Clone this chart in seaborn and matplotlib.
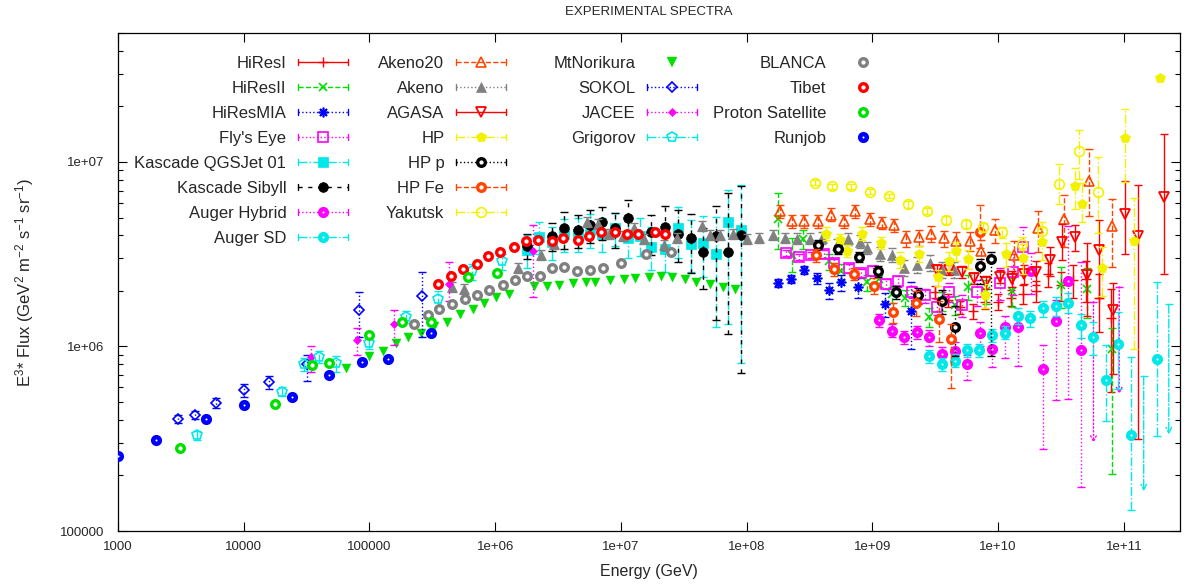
import numpy as np
import matplotlib
matplotlib.use("Agg")
import matplotlib.pyplot as plt
import seaborn as sns
from matplotlib.lines import Line2D
from matplotlib.legend import Legend
from matplotlib.legend_handler import HandlerLine2D
from matplotlib.ticker import FixedLocator, FixedFormatter, NullLocator, LogLocator

sns.set_style("ticks")
plt.rcParams["font.family"] = ["Liberation Sans", "DejaVu Sans"]
plt.rcParams["mathtext.default"] = "regular"

# ---------------- data (E in GeV, F = E^3 * flux) ----------------
hires1_E = [3.16e9, 3.98e9, 5.01e9, 6.31e9, 7.94e9, 1.0e10, 1.26e10, 1.58e10, 2.0e10, 2.51e10, 3.16e10, 3.98e10, 5.01e10, 6.31e10, 7.94e10]
hires1_F = [1.98e6, 1.79e6, 1.64e6, 1.55e6, 1.75e6, 1.75e6, 1.84e6, 1.93e6, 2.01e6, 2.48e6, 2.16e6, 2.30e6, 2.33e6, 1.84e6, 1.42e6]
hires1_lo = [0.08, 0.08, 0.08, 0.09, 0.09, 0.1, 0.1, 0.12, 0.13, 0.15, 0.18, 0.2, 0.25, 0.35, 0.6]
hires1_hi = [0.08, 0.08, 0.08, 0.09, 0.09, 0.1, 0.1, 0.12, 0.13, 0.15, 0.18, 0.2, 0.25, 0.35, 0.45]

hires2_E = [1.79e8, 2.29e8, 2.83e8, 4.53e8, 5.65e8, 9.06e8, 1.12e9, 1.43e9, 1.83e9, 2.84e9, 3.59e9, 4.58e9, 5.78e9, 8.05e9, 1.30e10, 3.15e10, 5.14e10, 8.0e10]
hires2_F = [4.90e6, 3.13e6, 3.82e6, 2.90e6, 2.56e6, 2.23e6, 2.32e6, 1.92e6, 1.84e6, 1.45e6, 1.77e6, 1.68e6, 2.11e6, 2.0e6, 2.0e6, 2.16e6, 2.05e6, 9.73e5]
hires2_lo = [0.31, 0.19, 0.12, 0.1, 0.1, 0.1, 0.1, 0.1, 0.1, 0.12, 0.12, 0.12, 0.15, 0.15, 0.18, 0.25, 0.3, 0.79]
hires2_hi = [0.38, 0.23, 0.12, 0.1, 0.1, 0.1, 0.1, 0.1, 0.1, 0.12, 0.12, 0.12, 0.15, 0.15, 0.18, 0.25, 0.3, 0.3]

hiresmia_E = [1.79e8, 2.24e8, 2.86e8, 3.62e8, 4.53e8, 5.65e8, 7.67e8, 1.25e9, 2.04e9]
hiresmia_F = [2.20e6, 2.32e6, 2.60e6, 2.34e6, 2.02e6, 2.23e6, 2.09e6, 1.70e6, 1.56e6]
hiresmia_lo = [0.05, 0.05, 0.05, 0.07, 0.1, 0.1, 0.12, 0.15, 0.38]
hiresmia_hi = [0.05, 0.05, 0.05, 0.07, 0.1, 0.1, 0.12, 0.15, 0.43]

flyseye_E = [2.06e8, 2.61e8, 3.26e8, 4.09e8, 5.0e8, 6.50e8, 8.18e8, 1.01e9, 1.28e9, 1.61e9, 2.07e9, 2.61e9, 3.24e9, 4.06e9, 5.14e9, 6.76e9, 1.03e10, 1.32e10, 1.59e10]
flyseye_F = [3.22e6, 3.06e6, 3.13e6, 3.17e6, 2.82e6, 2.65e6, 2.51e6, 2.56e6, 2.19e6, 2.26e6, 1.98e6, 1.89e6, 1.64e6, 1.98e6, 1.67e6, 1.97e6, 2.22e6, 2.54e6, 3.48e6]
flyseye_lo = [0.04, 0.04, 0.04, 0.05, 0.05, 0.05, 0.05, 0.06, 0.06, 0.07, 0.08, 0.09, 0.1, 0.12, 0.14, 0.16, 0.2, 0.25, 0.3]
flyseye_hi = [0.04, 0.04, 0.04, 0.05, 0.05, 0.05, 0.05, 0.06, 0.06, 0.07, 0.08, 0.09, 0.1, 0.12, 0.14, 0.16, 0.2, 0.25, 0.28]

kqgs_E = [1.78e6, 2.24e6, 2.84e6, 3.56e6, 4.55e6, 5.70e6, 7.06e6, 8.91e6, 1.14e7, 1.41e7, 1.75e7, 2.26e7, 2.85e7, 3.60e7, 4.52e7, 5.69e7, 7.14e7, 8.99e7]
kqgs_F = [3.34e6, 3.94e6, 3.70e6, 4.08e6, 4.08e6, 4.29e6, 4.08e6, 4.36e6, 3.85e6, 3.98e6, 3.48e6, 3.39e6, 4.36e6, 3.61e6, 3.66e6, 3.18e6, 4.74e6, 4.28e6]
kqgs_lo = [0.2, 0.2, 0.2, 0.2, 0.2, 0.2, 0.2, 0.2, 0.22, 0.22, 0.25, 0.25, 0.31, 0.3, 0.35, 0.6, 0.72, 0.81]
kqgs_hi = [0.2, 0.2, 0.2, 0.2, 0.22, 0.22, 0.22, 0.22, 0.25, 0.25, 0.28, 0.28, 0.31, 0.35, 0.4, 0.58, 0.48, 0.76]

ksib_E = [1.78e6, 2.84e6, 3.56e6, 4.55e6, 5.70e6, 7.06e6, 8.91e6, 1.14e7, 1.75e7, 2.26e7, 2.85e7, 3.60e7, 4.52e7, 5.69e7, 7.14e7, 8.99e7]
ksib_F = [3.52e6, 3.98e6, 4.40e6, 4.28e6, 4.55e6, 4.70e6, 4.36e6, 4.98e6, 4.15e6, 4.46e6, 4.09e6, 3.85e6, 3.24e6, 3.98e6, 3.24e6, 4.01e6]
ksib_lo = [0.15, 0.17, 0.23, 0.2, 0.2, 0.2, 0.22, 0.2, 0.25, 0.25, 0.3, 0.35, 0.37, 0.65, 0.64, 0.82]
ksib_hi = [0.15, 0.17, 0.22, 0.2, 0.2, 0.22, 0.22, 0.25, 0.25, 0.3, 0.35, 0.35, 0.35, 0.45, 1.1, 0.85]

augerh_E = [1.13e9, 1.43e9, 1.79e9, 2.27e9, 2.84e9, 3.59e9, 4.53e9, 5.68e9, 7.24e9, 8.99e9, 1.14e10, 1.45e10, 1.82e10, 2.28e10, 2.88e10, 3.61e10, 4.55e10]
augerh_F = [1.39e6, 1.22e6, 1.12e6, 1.20e6, 1.12e6, 9.06e5, 9.46e5, 8.02e5, 1.18e6, 9.73e5, 1.27e6, 1.27e6, 2.56e6, 7.53e5, 1.38e6, 2.26e6, 9.59e5]
augerh_lo = [0.08, 0.08, 0.08, 0.08, 0.1, 0.1, 0.12, 0.18, 0.15, 0.2, 0.32, 0.38, 0.25, 0.63, 0.63, 0.77, 0.82]
augerh_hi = [0.08, 0.08, 0.08, 0.08, 0.1, 0.1, 0.12, 0.12, 0.15, 0.2, 0.15, 0.2, 0.25, 0.35, 0.3, 1.0, 2.0]
augerh_ul_E = [5.74e10, 9.2e10]
augerh_ul_top = [1.75e6, 2.11e6]
augerh_ul_bot = [3.0e5, 5.5e5]

augersd_E = [2.84e9, 3.59e9, 4.53e9, 5.68e9, 7.11e9, 8.99e9, 1.14e10, 1.45e10, 1.79e10, 2.28e10, 2.88e10, 3.61e10, 4.55e10, 5.71e10, 7.19e10, 9.04e10, 1.14e11, 1.83e11]
augersd_F = [8.83e5, 8.02e5, 8.39e5, 9.59e5, 9.59e5, 1.15e6, 1.19e6, 1.47e6, 1.42e6, 1.61e6, 1.66e6, 1.73e6, 1.30e6, 1.13e6, 6.61e5, 1.03e6, 3.33e5, 8.59e5]
augersd_lo = [0.08, 0.08, 0.08, 0.08, 0.08, 0.08, 0.08, 0.1, 0.1, 0.1, 0.12, 0.12, 0.15, 0.2, 0.4, 0.43, 0.61, 0.62]
augersd_hi = [0.08, 0.08, 0.08, 0.08, 0.08, 0.08, 0.08, 0.1, 0.1, 0.1, 0.12, 0.12, 0.15, 0.2, 0.55, 0.5, 1.65, 1.6]
augersd_ul_E = [1.44e11, 2.28e11]
augersd_ul_top = [6.89e5, 1.69e6]
augersd_ul_bot = [1.64e5, 3.33e5]

akeno20_E = [1.85e8, 2.31e8, 2.88e8, 3.68e8, 4.70e8, 5.97e8, 7.31e8, 9.51e8, 1.19e9, 1.50e9, 1.86e9, 2.34e9, 2.93e9, 3.74e9, 4.65e9, 5.93e9, 7.38e9, 9.44e9, 1.34e10, 2.06e10, 3.37e10, 5.31e10, 8.09e10]
akeno20_F = [5.42e6, 4.78e6, 4.78e6, 4.78e6, 5.19e6, 4.78e6, 5.42e6, 4.90e6, 4.68e6, 4.55e6, 3.85e6, 3.90e6, 4.09e6, 3.85e6, 3.72e6, 3.72e6, 3.30e6, 4.28e6, 3.12e6, 4.36e6, 4.92e6, 7.87e6, 4.51e6]
akeno20_lo = [0.08, 0.08, 0.08, 0.08, 0.08, 0.08, 0.08, 0.08, 0.08, 0.08, 0.1, 0.1, 0.1, 0.1, 0.12, 0.12, 0.14, 0.15, 0.2, 0.25, 0.3, 0.35, 0.4]
akeno20_hi = [0.08, 0.08, 0.08, 0.08, 0.08, 0.08, 0.08, 0.08, 0.08, 0.08, 0.1, 0.1, 0.1, 0.1, 0.12, 0.12, 0.14, 0.15, 0.2, 0.25, 0.35, 0.5, 0.4]

akeno_E = [4.52e5, 5.64e5, 1.52e6, 2.32e6, 2.94e6, 5.40e6, 6.61e6, 8.07e6, 1.04e7, 1.26e7, 1.54e7, 2.22e7, 2.77e7, 4.38e7, 5.07e7, 6.10e7, 7.73e7, 1.0e8, 1.25e8, 1.61e8, 2.01e8, 2.51e8, 3.18e8, 3.96e8, 5.22e8, 6.38e8, 7.96e8, 9.06e8, 1.15e9, 1.43e9, 1.79e9, 2.27e9, 2.88e9, 3.59e9, 4.48e9]
akeno_F = [2.11e6, 2.06e6, 2.67e6, 3.14e6, 3.61e6, 4.74e6, 4.62e6, 4.08e6, 3.98e6, 4.40e6, 3.84e6, 3.56e6, 3.88e6, 4.51e6, 4.03e6, 4.03e6, 4.08e6, 3.84e6, 3.88e6, 4.03e6, 3.88e6, 3.84e6, 3.84e6, 3.88e6, 3.56e6, 3.84e6, 3.70e6, 3.43e6, 3.18e6, 3.14e6, 2.67e6, 2.77e6, 2.84e6, 2.61e6, 2.61e6]
akeno_err = [0.06, 0.06, 0.06, 0.06, 0.06, 0.06, 0.06, 0.06, 0.06, 0.06, 0.06, 0.06, 0.06, 0.06, 0.06, 0.06, 0.06, 0.06, 0.06, 0.06, 0.06, 0.07, 0.07, 0.07, 0.08, 0.08, 0.08, 0.08, 0.09, 0.09, 0.1, 0.1, 0.1, 0.1, 0.1]

agasa_E = [3.27e9, 4.10e9, 5.12e9, 6.43e9, 8.09e9, 1.03e10, 1.28e10, 1.61e10, 1.99e10, 2.58e10, 3.25e10, 4.10e10, 5.14e10, 6.38e10, 8.15e10, 1.02e11, 1.29e11, 2.07e11]
agasa_F = [2.60e6, 2.60e6, 2.54e6, 2.34e6, 2.24e6, 2.39e6, 2.32e6, 2.48e6, 2.54e6, 2.94e6, 3.70e6, 3.94e6, 2.44e6, 3.33e6, 1.58e6, 5.21e6, 3.96e6, 6.47e6]
agasa_lo = [0.06, 0.06, 0.07, 0.07, 0.08, 0.08, 0.1, 0.12, 0.15, 0.18, 0.2, 0.16, 0.4, 0.45, 0.55, 0.39, 0.92, 0.62]
agasa_hi = [0.06, 0.06, 0.07, 0.07, 0.08, 0.08, 0.1, 0.12, 0.15, 0.18, 0.25, 0.16, 0.5, 0.45, 0.4, 0.51, 0.89, 1.2]

hp_E = [4.27e8, 5.52e8, 6.28e8, 8.26e8, 1.17e9, 1.66e9, 2.34e9, 3.33e9, 4.06e9, 4.65e9, 5.78e9, 7.94e9, 1.16e10, 1.59e10, 2.22e10, 4.06e10, 4.69e10, 6.65e10, 1.02e11, 1.21e11, 1.94e11]
hp_F = [4.09e6, 3.78e6, 3.30e6, 4.09e6, 3.65e6, 2.96e6, 3.18e6, 2.37e6, 2.92e6, 3.29e6, 2.98e6, 1.89e6, 3.18e6, 3.03e6, 3.70e6, 7.41e6, 5.93e6, 2.67e6, 1.35e7, 3.74e6, 2.86e7]
hp_lo = [0.08, 0.08, 0.08, 0.08, 0.08, 0.1, 0.1, 0.1, 0.12, 0.12, 0.12, 0.15, 0.15, 0.18, 0.2, 0.25, 0.2, 0.3, 0.42, 0.74, 0.0]
hp_hi = [0.08, 0.08, 0.08, 0.08, 0.08, 0.1, 0.1, 0.1, 0.12, 0.12, 0.12, 0.15, 0.15, 0.18, 0.2, 0.25, 0.3, 0.3, 0.43, 0.7, 0.0]

hpp_E = [3.73e8, 5.38e8, 7.87e8, 1.11e9, 1.53e9, 2.31e9, 3.56e9, 4.58e9, 7.21e9, 8.83e9]
hpp_F = [3.57e6, 3.36e6, 3.06e6, 2.56e6, 1.97e6, 1.89e6, 1.77e6, 1.27e6, 2.72e6, 2.97e6]
hpp_lo = [0.06, 0.06, 0.06, 0.07, 0.08, 0.1, 0.15, 0.3, 0.2, 0.7]
hpp_hi = [0.06, 0.06, 0.06, 0.07, 0.08, 0.1, 0.15, 0.3, 0.1, 0.1]

hpfe_E = [3.55e8, 5.0e8, 7.10e8, 1.03e9, 1.46e9, 2.23e9, 3.40e9, 4.26e9, 7.24e9]
hpfe_F = [3.13e6, 2.63e6, 2.48e6, 2.14e6, 1.53e6, 1.73e6, 1.41e6, 1.10e6, 4.15e6]
hpfe_lo = [0.08, 0.08, 0.08, 0.1, 0.12, 0.15, 0.25, 0.46, 0.18]
hpfe_hi = [0.08, 0.08, 0.08, 0.1, 0.12, 0.15, 0.25, 0.2, 0.41]

yakutsk_E = [3.47e8, 4.76e8, 6.79e8, 9.51e8, 1.35e9, 1.91e9, 2.72e9, 3.86e9, 5.51e9, 7.59e9, 1.08e10, 1.54e10, 2.22e10, 3.06e10, 4.37e10, 6.18e10]
yakutsk_F = [7.73e6, 7.40e6, 7.40e6, 6.89e6, 6.55e6, 5.90e6, 5.43e6, 4.84e6, 4.60e6, 4.42e6, 4.15e6, 3.61e6, 4.24e6, 7.64e6, 1.14e7, 6.89e6]
yakutsk_lo = [0.03, 0.03, 0.03, 0.03, 0.03, 0.04, 0.04, 0.05, 0.05, 0.06, 0.07, 0.08, 0.12, 0.23, 0.29, 0.4]
yakutsk_hi = [0.03, 0.03, 0.03, 0.03, 0.03, 0.04, 0.04, 0.05, 0.05, 0.06, 0.07, 0.08, 0.12, 0.27, 0.3, 0.55]

norikura_E = [6.46e4, 1.0e5, 1.29e5, 1.62e5, 2.04e5, 2.57e5, 3.24e5, 4.17e5, 5.25e5, 6.61e5, 8.13e5, 1.02e6, 1.29e6, 2.04e6, 2.57e6, 3.24e6, 4.17e6, 5.25e6, 6.17e6, 8.13e6, 1.05e7, 1.29e7, 1.66e7, 2.09e7, 2.57e7, 3.24e7, 3.98e7, 5.13e7, 6.46e7, 8.13e7]
norikura_F = [7.69e5, 8.91e5, 9.51e5, 1.04e6, 1.12e6, 1.19e6, 1.29e6, 1.36e6, 1.50e6, 1.59e6, 1.71e6, 1.86e6, 1.93e6, 2.14e6, 2.14e6, 2.16e6, 2.20e6, 2.23e6, 2.24e6, 2.30e6, 2.31e6, 2.34e6, 2.37e6, 2.41e6, 2.39e6, 2.32e6, 2.24e6, 2.17e6, 2.11e6, 2.04e6]

sokol_E = [3.0e3, 4.1e3, 6.0e3, 1.0e4, 1.6e4, 3.2e4, 8.2e4, 2.6e5]
sokol_F = [4.05e5, 4.25e5, 4.95e5, 5.8e5, 6.4e5, 8.0e5, 1.58e6, 1.87e6]
sokol_lo = [0.05, 0.05, 0.06, 0.08, 0.08, 0.19, 0.29, 0.4]
sokol_hi = [0.05, 0.05, 0.06, 0.08, 0.08, 0.13, 0.25, 0.36]

jacee_E = [3.4e4, 7.9e4, 1.57e5, 4.3e5, 2.0e6]
jacee_F = [8.8e5, 1.09e6, 1.32e6, 2.17e6, 3.3e6]
jacee_lo = [0.17, 0.18, 0.23, 0.19, 0.44]
jacee_hi = [0.14, 0.15, 0.2, 0.33, 0.38]

grigorov_E = [4.25e3, 2.0e4, 3.0e4, 4.0e4, 5.4e4, 1.0e5, 1.95e5, 3.5e5, 6.6e5, 1.13e6]
grigorov_F = [3.3e5, 5.7e5, 8.0e5, 8.8e5, 8.1e5, 1.05e6, 1.45e6, 1.81e6, 2.56e6, 2.9e6]
grigorov_err = [0.06, 0.06, 0.08, 0.08, 0.1, 0.08, 0.08, 0.1, 0.1, 0.1]

blanca_E = [2.26e5, 2.90e5, 3.55e5, 4.50e5, 5.78e5, 7.11e5, 8.98e5, 1.15e6, 1.45e6, 1.79e6, 2.29e6, 2.84e6, 3.56e6, 4.49e6, 5.73e6, 7.19e6, 9.95e6, 1.57e7, 2.52e7]
blanca_F = [1.33e6, 1.48e6, 1.59e6, 1.69e6, 1.80e6, 1.89e6, 2.02e6, 2.16e6, 2.28e6, 2.42e6, 2.42e6, 2.67e6, 2.69e6, 2.56e6, 2.60e6, 2.67e6, 2.82e6, 3.16e6, 3.27e6]

tibet_E = [3.54e5, 4.45e5, 5.51e5, 7.13e5, 8.81e5, 1.09e6, 1.42e6, 1.76e6, 2.21e6, 2.82e6, 3.49e6, 4.55e6, 5.62e6, 6.98e6, 9.02e6, 1.12e7, 1.38e7, 1.88e7, 2.23e7]
tibet_F = [2.18e6, 2.41e6, 2.63e6, 2.80e6, 3.10e6, 3.27e6, 3.44e6, 3.74e6, 3.76e6, 3.74e6, 3.88e6, 3.80e6, 3.98e6, 4.15e6, 4.19e6, 4.09e6, 4.05e6, 4.15e6, 4.09e6]

protsat_E = [3.1e3, 1.76e4, 3.5e4, 4.8e4, 1.0e5, 1.8e5, 3.1e5, 6.1e5, 1.03e6]
protsat_F = [2.8e5, 4.9e5, 7.9e5, 8.1e5, 1.15e6, 1.35e6, 1.35e6, 2.37e6, 2.49e6]

runjob_E = [1.0e3, 2.0e3, 5.0e3, 1.0e4, 2.4e4, 4.8e4, 8.7e4, 1.4e5, 3.1e5]
runjob_F = [2.55e5, 3.1e5, 4.05e5, 4.8e5, 5.3e5, 7.0e5, 8.2e5, 8.55e5, 1.19e6]

x_ticks = [1e3, 1e4, 1e5, 1e6, 1e7, 1e8, 1e9, 1e10, 1e11]
x_ticklabels = ["1000", "10000", "100000", "1e+06", "1e+07", "1e+08", "1e+09", "1e+10", "1e+11"]
y_ticks = [1e5, 1e6, 1e7]
y_ticklabels = ["100000", "1e+06", "1e+07"]

# ---------------- colours ----------------
RED, GREEN, BLUE = "#ff0000", "#00e000", "#0000ff"
MAG, CYAN, BLACK = "#ff00ff", "#00e8e8", "#000000"
ORANGE, GRAY, YELLOW = "#ff4500", "#808080", "#f2f200"

W, H = 1189, 587
fig = plt.figure(figsize=(W / 100, H / 100), dpi=100)
L, R, T, B = 118, 1180, 33, 531
ax = fig.add_axes([L / W, 1 - B / H, (R - L) / W, (B - T) / H])
ax.set_xscale("log")
ax.set_yscale("log")
ax.set_xlim(1e3, 2.8e11)
ax.set_ylim(1e5, 5e7)

z = [10]
handles = []


def add_err(E, F, lo, hi, color, ls, marker, ms, mfc, mew, label):
    E = np.asarray(E)
    F = np.asarray(F)
    yerr = np.vstack([F * np.asarray(lo), F * np.asarray(hi)])
    eb = ax.errorbar(E, F, yerr=yerr, fmt="none", ecolor=color, elinewidth=1.0,
                     capsize=3, capthick=1.0, zorder=z[0])
    for c in eb[2]:
        c.set_linestyle(ls)
    ax.plot(E, F, linestyle="none", marker=marker, color=color, ms=ms,
            mfc=mfc, mec=color, mew=mew, zorder=z[0] + 0.5)
    z[0] += 1
    handles.append(Line2D([], [], color=color, linestyle=ls, lw=1.0, marker=marker,
                          ms=ms, mfc=mfc, mec=color, mew=mew, label=label))


def add_pts(E, F, color, marker, ms, mfc, mew, label):
    sns.scatterplot(x=E, y=F, ax=ax, marker=marker, s=ms ** 2,
                    color=mfc, edgecolor=color, linewidth=mew, zorder=z[0], legend=False)
    z[0] += 1
    handles.append(Line2D([], [], color=color, linestyle="none", marker=marker,
                          ms=ms, mfc=mfc, mec=color, mew=mew, label=label))


def add_limits(E, top, bot, color, ls):
    for e, t, b in zip(E, top, bot):
        ax.annotate("", xy=(e, b), xytext=(e, t),
                    arrowprops=dict(arrowstyle="->", color=color, lw=1.0, linestyle=ls,
                                    shrinkA=0, shrinkB=0), zorder=z[0])
        ax.plot([e], [t], marker="_", color=color, ms=6, mew=1.0, zorder=z[0])


add_err(hires1_E, hires1_F, hires1_lo, hires1_hi, RED, "-", "+", 7, RED, 1.0, "HiResI")
add_err(hires2_E, hires2_F, hires2_lo, hires2_hi, GREEN, "--", "x", 6, GREEN, 1.2, "HiResII")
add_err(hiresmia_E, hiresmia_F, hiresmia_lo, hiresmia_hi, BLUE, ":", (8, 2, 0), 7, BLUE, 1.2, "HiResMIA")
add_err(flyseye_E, flyseye_F, flyseye_lo, flyseye_hi, MAG, ":", "s", 6.5, "none", 1.2, "Fly's Eye")
add_err(kqgs_E, kqgs_F, kqgs_lo, kqgs_hi, CYAN, "-.", "s", 6.5, CYAN, 0.5, "Kascade QGSJet 01")
add_err(ksib_E, ksib_F, ksib_lo, ksib_hi, BLACK, (0, (3, 4)), "o", 7, BLACK, 0.5, "Kascade Sibyll")
add_err(augerh_E, augerh_F, augerh_lo, augerh_hi, MAG, ":", "o", 4.8, "white", 3.2, "Auger Hybrid")
add_limits(augerh_ul_E, augerh_ul_top, augerh_ul_bot, MAG, ":")
add_err(augersd_E, augersd_F, augersd_lo, augersd_hi, CYAN, "-.", "o", 4.8, "white", 3.2, "Auger SD")
add_limits(augersd_ul_E, augersd_ul_top, augersd_ul_bot, CYAN, "-.")
add_err(akeno20_E, akeno20_F, akeno20_lo, akeno20_hi, ORANGE, "--", "^", 6.5, "none", 1.2, "Akeno20")
add_err(akeno_E, akeno_F, akeno_err, akeno_err, GRAY, ":", "^", 6.5, GRAY, 0.5, "Akeno")
add_err(agasa_E, agasa_F, agasa_lo, agasa_hi, RED, "-", "v", 7, "none", 1.3, "AGASA")
add_err(hp_E, hp_F, hp_lo, hp_hi, YELLOW, "-.", "p", 7, YELLOW, 0.5, "HP")
add_err(hpp_E, hpp_F, hpp_lo, hpp_hi, BLACK, ":", "o", 5.5, "white", 2.4, "HP p")
add_err(hpfe_E, hpfe_F, hpfe_lo, hpfe_hi, ORANGE, "--", "o", 5.5, "white", 2.4, "HP Fe")
add_err(yakutsk_E, yakutsk_F, yakutsk_lo, yakutsk_hi, YELLOW, "-.", "o", 7, "none", 1.2, "Yakutsk")
add_pts(norikura_E, norikura_F, GREEN, "v", 6.5, GREEN, 0.3, "MtNorikura")
add_err(sokol_E, sokol_F, sokol_lo, sokol_hi, BLUE, ":", "D", 5.5, "none", 1.2, "SOKOL")
add_err(jacee_E, jacee_F, jacee_lo, jacee_hi, MAG, ":", "D", 4.5, MAG, 0.5, "JACEE")
add_err(grigorov_E, grigorov_F, grigorov_err, grigorov_err, CYAN, "-.", "p", 7, "none", 1.2, "Grigorov")
add_pts(blanca_E, blanca_F, GRAY, "o", 5.5, "white", 2.4, "BLANCA")
add_pts(tibet_E, tibet_F, RED, "o", 5.5, "white", 2.4, "Tibet")
add_pts(protsat_E, protsat_F, GREEN, "o", 5.5, "white", 2.4, "Proton Satellite")
add_pts(runjob_E, runjob_F, BLUE, "o", 4.8, "white", 3.2, "Runjob")


class CapHandler(HandlerLine2D):
    def create_artists(self, legend, orig_handle, xdescent, ydescent, width, height, fontsize, trans):
        arts = super().create_artists(legend, orig_handle, xdescent, ydescent, width, height, fontsize, trans)
        if orig_handle.get_linestyle() not in ("None", "none", "", " "):
            y = height / 2 - ydescent
            h = height * 0.28
            for x in (-xdescent, -xdescent + width):
                ln = Line2D([x, x], [y - h, y + h], color=orig_handle.get_color(), lw=1.0)
                ln.set_transform(trans)
                arts.append(ln)
        return arts


groups = [handles[0:8], handles[8:15], handles[15:19], handles[19:23]]
anchors = [(348, 56), (506, 56), (697, 56), (888, 56)]
for grp, (px, py) in zip(groups, anchors):
    leg = Legend(ax, grp, [h.get_label() for h in grp], loc="upper right",
                 bbox_to_anchor=((px - L) / (R - L), 1 - (py - T) / (B - T)),
                 bbox_transform=ax.transAxes,
                 frameon=False, markerfirst=False, fontsize=12, borderpad=0,
                 borderaxespad=0, handlelength=3.0, handletextpad=0.7,
                 labelspacing=0.6, handler_map={Line2D: CapHandler()})
    leg.set_zorder(100)
    ax.add_artist(leg)

ax.xaxis.set_major_locator(FixedLocator(x_ticks))
ax.xaxis.set_major_formatter(FixedFormatter(x_ticklabels))
ax.xaxis.set_minor_locator(NullLocator())
ax.yaxis.set_major_locator(FixedLocator(y_ticks))
ax.yaxis.set_major_formatter(FixedFormatter(y_ticklabels))
ax.yaxis.set_minor_locator(LogLocator(base=10, subs=np.arange(2, 10), numticks=20))
ax.yaxis.set_minor_formatter(FixedFormatter([]))
ax.tick_params(which="both", direction="in", top=True, right=True, labelsize=9.5, width=0.8, color="black")
ax.tick_params(which="major", length=6.5, pad=7)
ax.tick_params(axis="y", which="major", pad=10)
ax.tick_params(which="minor", length=3.5)
for s in ax.spines.values():
    s.set_linewidth(0.9)
    s.set_color("black")

ax.set_xlabel("Energy (GeV)", fontsize=11.5, labelpad=8)
ax.set_ylabel("E$^{3}$* Flux (GeV$^{2}$ m$^{-2}$ s$^{-1}$ sr$^{-1}$)", fontsize=12, labelpad=17)
fig.text(0.5 * (L + R) / W, 1 - 12 / H, "EXPERIMENTAL SPECTRA", ha="center", va="center", fontsize=9.5)

fig.savefig("out.png", dpi=100)
